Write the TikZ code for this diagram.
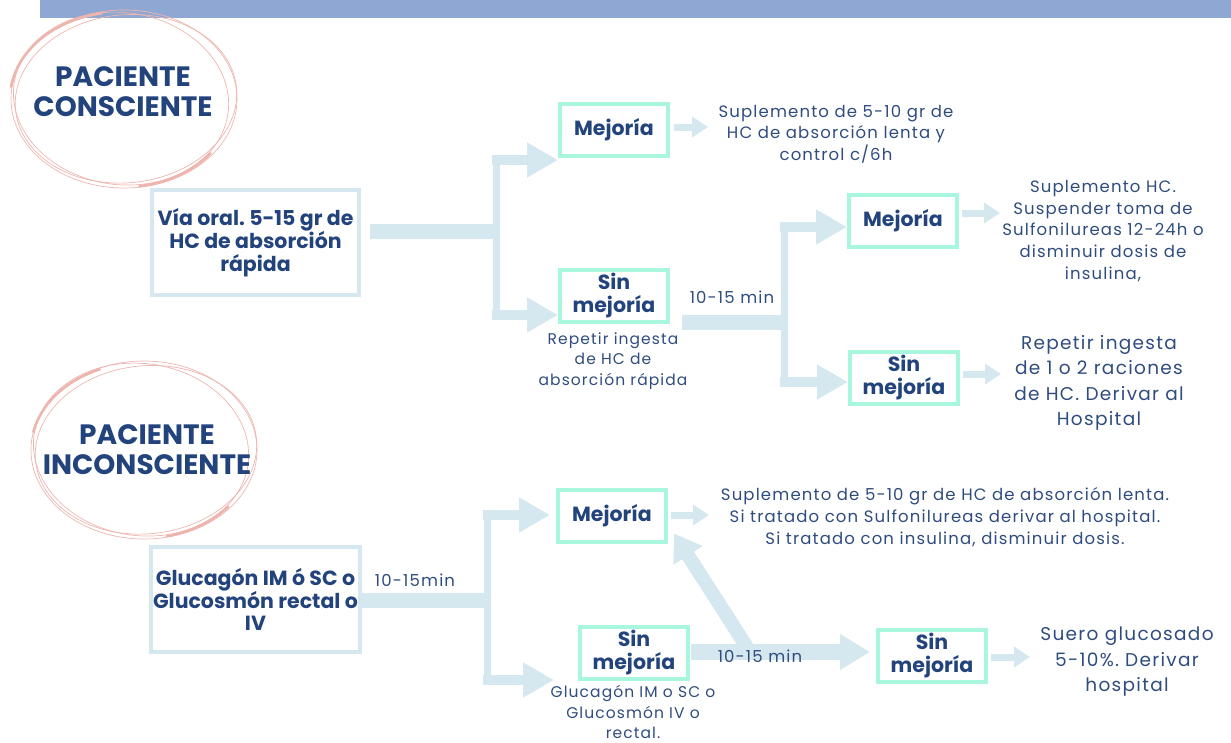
\documentclass[tikz,border=0pt]{standalone}
\usepackage{fontspec}
\setmainfont{Poppins}
\newfontfamily\bodyfont[LetterSpace=7]{Poppins}
\frenchspacing
\usetikzlibrary{arrows.meta}
\definecolor{navy}{HTML}{22437C}
\definecolor{bodyc}{HTML}{2F4C7E}
\definecolor{barc}{HTML}{D5E7EF}
\definecolor{mint}{HTML}{A9F6DE}
\definecolor{headc}{HTML}{8EA8D3}
\definecolor{pinkc}{HTML}{EDB5AE}
\tikzset{
  startbox/.style={draw=barc, line width=4pt, minimum width=207pt, minimum height=105pt, inner sep=2pt, align=center, text=navy, font=\bfseries\fontsize{20.5}{22.8}\selectfont},
  resbox/.style={draw=mint, line width=4pt, minimum width=108pt, minimum height=52pt, inner sep=1pt, align=center, text=navy, font=\bfseries\fontsize{20.5}{23}\selectfont},
  note/.style={align=center, text=bodyc, font=\bodyfont\fontsize{16.5}{21.7}\selectfont},
  smallnote/.style={align=center, text=bodyc, font=\bodyfont\fontsize{15.5}{20.8}\selectfont},
  bignote/.style={align=center, text=bodyc, font=\bodyfont\fontsize{18.5}{25.5}\selectfont},
  timelabel/.style={text=bodyc, font=\bodyfont\fontsize{16.5}{18}\selectfont, inner sep=1pt},
  titletext/.style={text=navy, align=center, font=\bfseries\fontsize{28}{30}\selectfont},
  trunk/.style={draw=barc, line width=15pt},
  spine/.style={draw=barc, line width=7pt},
  branch/.style={draw=barc, line width=10pt, -{Triangle[length=31pt,width=33pt]}},
  pointer/.style={draw=barc, line width=7pt, -{Triangle[length=16pt,width=20pt]}},
  sketch/.style={draw=pinkc, line width=0.7pt},
  sketchthick/.style={draw=pinkc, line width=2.6pt, line cap=round},
}
\begin{document}
\begin{tikzpicture}[x=1pt,y=-1pt]
\useasboundingbox (0,0) rectangle (1231,742);
\fill[headc] (40,0) rectangle (1231,18);

% sketchy circles
\coordinate (c1) at (124,99);
\draw[sketch] (c1) ellipse [x radius=113, y radius=89];
\draw[sketch, rotate around={-8:(c1)}] ([xshift=-3pt]c1) ellipse [x radius=108, y radius=86];
\draw[sketch, rotate around={6:(c1)}] ([xshift=2pt]c1) ellipse [x radius=111, y radius=84];
\draw[sketchthick] plot[domain=100:172, samples=40] ({121+111*cos(\x)}, {99-87*sin(\x)});
\draw[sketchthick] plot[domain=-82:-38, samples=30] ({124+110*cos(\x)}, {99-88*sin(\x)});

\coordinate (c2) at (144,450);
\draw[sketch] (c2) ellipse [x radius=113, y radius=89];
\draw[sketch, rotate around={-8:(c2)}] ([xshift=-3pt]c2) ellipse [x radius=108, y radius=86];
\draw[sketch, rotate around={6:(c2)}] ([xshift=2pt]c2) ellipse [x radius=111, y radius=84];
\draw[sketchthick] plot[domain=112:168, samples=40] ({141+110*cos(\x)}, {450-87*sin(\x)});
\draw[sketchthick] plot[domain=-78:-40, samples=30] ({144+110*cos(\x)}, {450-88*sin(\x)});

\node[titletext] (t1) at (123,92) {PACIENTE\\CONSCIENTE};
\node[titletext] (t2) at (147,450) {PACIENTE\\INCONSCIENTE};

% top section
\node[startbox] (s1) at (255.5,242.5) {Vía oral. 5-15 gr de\\HC de absorción\\rápida};
\node[resbox] (m1) at (614,129.5) {Mejoría};
\node[resbox] (f1) at (614,296) {Sin\\mejoría};
\node[note] (n1) at (836,134) {Suplemento de 5-10 gr de\\HC de absorción lenta y\\control c/6h};
\node[smallnote] (n2) at (613,361) {Repetir ingesta\\de HC de\\absorción rápida};
\node[timelabel] (l1) at (732,297) {10-15 min};
\node[resbox] (m2) at (903,220.5) {Mejoría};
\node[resbox] (f2) at (904,377.5) {Sin\\mejoría};
\node[note] (n3) at (1103,231) {Suplemento HC.\\Suspender toma de\\Sulfonilureas 12-24h o\\disminuir dosis de\\insulina,};
\node[bignote] (n4) at (1099,383) {Repetir ingesta\\de 1 o 2 raciones\\de HC. Derivar al\\Hospital};

\coordinate (j1) at (496,231);
\draw[trunk] ([xshift=9pt]s1.east |- j1) -- ([xshift=4pt]j1);
\draw[spine] (j1 |- 0,155) -- (j1 |- 0,320);
\draw[branch] ([xshift=-4pt]j1 |- 0,160) -- (m1.west |- 0,160);
\draw[branch] ([xshift=-4pt]j1 |- 0,315) -- (f1.west |- 0,315);
\draw[pointer] ([xshift=4pt]m1.east |- 0,127) -- ([xshift=38pt]m1.east |- 0,127);

\coordinate (j2) at (784,322);
\draw[trunk] ([xshift=12pt]f1.east |- j2) -- ([xshift=4pt]j2);
\draw[spine] (j2 |- 0,222) -- (j2 |- 0,387);
\draw[branch] ([xshift=-4pt]j2 |- 0,227) -- (m2.west |- 0,227);
\draw[branch] ([xshift=-4pt]j2 |- 0,382) -- (f2.west |- 0,382);
\draw[pointer] ([xshift=3pt]m2.east |- 0,213) -- ([xshift=41pt]m2.east |- 0,213);
\draw[pointer] ([xshift=3pt]f2.east |- 0,374) -- ([xshift=41pt]f2.east |- 0,374);

% bottom section
\node[startbox] (s2) at (255.5,599.5) {Glucagón IM ó SC o\\Glucosmón rectal o\\IV};
\node[timelabel] (l2) at (415,580) {10-15min};
\node[resbox] (m3) at (612,515.5) {Mejoría};
\node[resbox] (f3) at (634,652.5) {Sin\\mejoría};
\node[note] (n5) at (945,517) {Suplemento de 5-10 gr de HC de absorción lenta.\\Si tratado con Sulfonilureas derivar al hospital.\\Si tratado con insulina, disminuir dosis.};
\node[smallnote] (n6) at (633,712) {Glucagón IM o SC o\\Glucosmón IV o\\rectal.};
\node[resbox] (f4) at (932,656) {Sin\\mejoría};
\node[bignote] (n7) at (1127,662) {Suero glucosado\\5-10\%. Derivar\\hospital};

\coordinate (j3) at (487,600);
\draw[trunk] (s2.east |- j3) -- ([xshift=3pt]j3);
\draw[spine] (j3 |- 0,510) -- (j3 |- 0,685);
\draw[branch] ([xshift=-4pt]j3 |- 0,515) -- ([xshift=-6pt]m3.west |- 0,515);
\draw[branch] ([xshift=-4pt]j3 |- 0,680) -- ([xshift=-24pt]f3.west |- 0,680);
\draw[pointer] ([xshift=3pt]m3.east |- 0,515) -- ([xshift=41pt]m3.east |- 0,515);

\coordinate (k) at (750,652);
\draw[draw=barc, line width=16pt, -{Triangle[length=30pt,width=34pt]}] ([xshift=1pt]f3.east |- k) -- ([xshift=-6pt]f4.west |- k);
\draw[draw=barc, line width=14pt, -{Triangle[length=26pt,width=33pt]}] (k) -- ([shift={(6,-10)}]m3.south east);
\node[timelabel] (l3) at (760,656) {10-15 min};
\draw[pointer] ([xshift=3pt]f4.east |- 0,657) -- ([xshift=42pt]f4.east |- 0,657);
\end{tikzpicture}
\end{document}
